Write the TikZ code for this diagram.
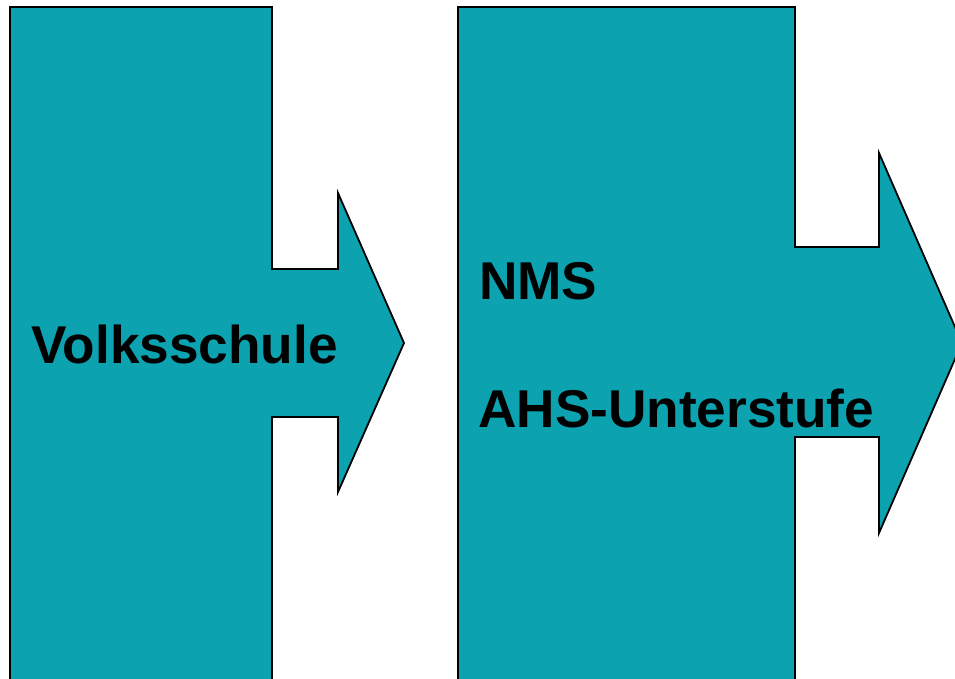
\documentclass[tikz,border=0pt]{standalone}
\usepackage{fontspec}
\setmainfont{Liberation Sans}
\definecolor{tealfill}{RGB}{12,162,176}
\tikzset{
  arrowshape/.style={fill=tealfill, draw=black, line width=1.8pt, line join=miter},
  label/.style={inner sep=0pt, anchor=base west, font=\fontsize{53.2}{60}\selectfont\bfseries}
}
\begin{document}
\begin{tikzpicture}[x=1pt,y=-1pt]
\useasboundingbox (0,0) rectangle (955,678);
\begin{scope}
\clip (0,0) rectangle (955,678);
\draw[arrowshape] (10,690) -- (10,7) -- (272,7) -- (272,269) -- (338,269) -- (338,193)
  -- (404,343) -- (338,492) -- (338,417) -- (272,417) -- (272,690);
\draw[arrowshape] (458,690) -- (458,7) -- (795,7) -- (795,247) -- (879,247) -- (879,153)
  -- (962,343) -- (879,533) -- (879,437) -- (795,437) -- (795,690);
\end{scope}
\node[label] (vs) at (31,363) {Volksschule};
\node[label] (nms) at (479,299) {NMS};
\node[label] (ahs) at (478,427) {AHS-Unterstufe};
\end{tikzpicture}
\end{document}
